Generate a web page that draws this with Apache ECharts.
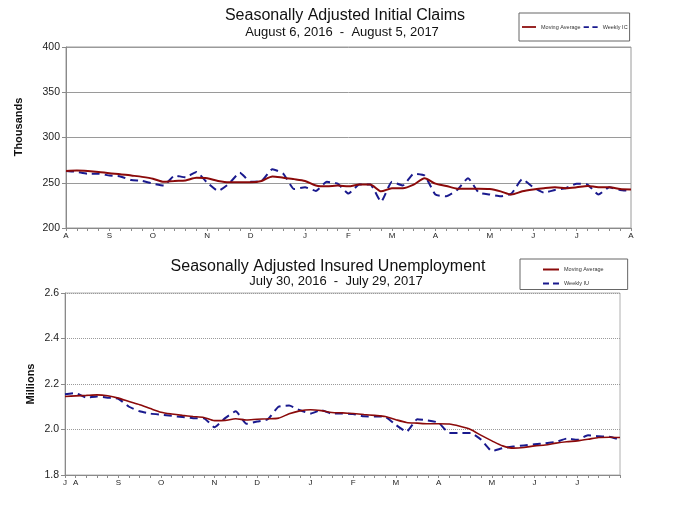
<!DOCTYPE html>
<html>
<head>
<meta charset="utf-8">
<script src="https://cdn.jsdelivr.net/npm/echarts@6/dist/echarts.min.js"></script>
<style>html,body{margin:0;padding:0;background:#fff;}#c{width:676px;height:508px;}</style>
</head>
<body>
<div id="c"></div>
<script>
// ---------- Top chart: Seasonally Adjusted Initial Claims (thousands) ----------
const topDates = ['2016-08-06','2016-08-13','2016-08-20','2016-08-27','2016-09-03','2016-09-10','2016-09-17','2016-09-24',
  '2016-10-01','2016-10-08','2016-10-15','2016-10-22','2016-10-29','2016-11-05','2016-11-12','2016-11-19','2016-11-26',
  '2016-12-03','2016-12-10','2016-12-17','2016-12-24','2016-12-31','2017-01-07','2017-01-14','2017-01-21','2017-01-28',
  '2017-02-04','2017-02-11','2017-02-18','2017-02-25','2017-03-04','2017-03-11','2017-03-18','2017-03-25',
  '2017-04-01','2017-04-08','2017-04-15','2017-04-22','2017-04-29','2017-05-06','2017-05-13','2017-05-20','2017-05-27',
  '2017-06-03','2017-06-10','2017-06-17','2017-06-24','2017-07-01','2017-07-08','2017-07-15','2017-07-22','2017-07-29','2017-08-05'];
const topWeeklyIC = [263,262,260,260,258,257,253,252,249,247,258,256,262,250,241,249,261,251,252,265,260,243,245,241,251,249,
  238,248,248,229,251,247,260,258,237,235,242,255,239,237,235,238,254,245,239,242,244,249,248,237,245,242,241];
const topMovingAvg = [263,263.5,263,262,260.5,259.5,258,256.5,254.5,251,252,252.5,255.5,255,252,250.5,250.5,250.5,252,257,255.5,254,252,247,246,247,
  246,248,248,240.5,244,244,248,255,249,246.5,243.5,243.5,243.5,243,240.5,237,240.5,242.5,244,245,244,245,246.5,245,245,243,242.5];
const topTickIndex = [0,4,8,13,17,22,26,30,34,39,43,47,52];
const topTickText  = ['A','S','O','N','D','J','F','M','A','M','J','J','A'];

// ---------- Bottom chart: Seasonally Adjusted Insured Unemployment (millions) ----------
const bottomDates = ['2016-07-30','2016-08-06','2016-08-13','2016-08-20','2016-08-27','2016-09-03','2016-09-10','2016-09-17','2016-09-24',
  '2016-10-01','2016-10-08','2016-10-15','2016-10-22','2016-10-29','2016-11-05','2016-11-12','2016-11-19','2016-11-26',
  '2016-12-03','2016-12-10','2016-12-17','2016-12-24','2016-12-31','2017-01-07','2017-01-14','2017-01-21','2017-01-28',
  '2017-02-04','2017-02-11','2017-02-18','2017-02-25','2017-03-04','2017-03-11','2017-03-18','2017-03-25',
  '2017-04-01','2017-04-08','2017-04-15','2017-04-22','2017-04-29','2017-05-06','2017-05-13','2017-05-20','2017-05-27',
  '2017-06-03','2017-06-10','2017-06-17','2017-06-24','2017-07-01','2017-07-08','2017-07-15','2017-07-22','2017-07-29'];
const bottomWeeklyIU = [2.155,2.16,2.14,2.145,2.14,2.135,2.10,2.08,2.07,2.065,2.06,2.055,2.05,2.05,2.01,2.05,2.08,2.025,2.035,2.045,
  2.10,2.105,2.085,2.07,2.085,2.07,2.07,2.068,2.058,2.057,2.056,2.02,1.99,2.045,2.04,2.03,1.985,1.985,1.985,1.955,1.905,1.918,
  1.925,1.93,1.935,1.94,1.945,1.96,1.955,1.975,1.97,1.968,1.955];
const bottomMovingAvg = [2.145,2.148,2.15,2.152,2.148,2.138,2.123,2.109,2.092,2.076,2.068,2.062,2.057,2.053,2.039,2.04,2.047,2.042,2.045,2.047,
  2.05,2.069,2.082,2.087,2.083,2.075,2.073,2.07,2.066,2.062,2.057,2.043,2.031,2.028,2.025,2.025,2.024,2.014,2.0,1.974,1.95,1.928,
  1.918,1.921,1.928,1.932,1.94,1.946,1.95,1.957,1.965,1.966,1.965];
const bottomTickIndex = [0,1,5,9,14,18,23,27,31,35,40,44,48];
const bottomTickText  = ['J','A','S','O','N','D','J','F','M','A','M','J','J'];

function labelMap(idx, txt){ const m = {}; idx.forEach((k,i)=>{ m[k]=txt[i]; }); return m; }
const topLabels = labelMap(topTickIndex, topTickText);
const bottomLabels = labelMap(bottomTickIndex, bottomTickText);

const FONT = 'Arial, "Liberation Sans", sans-serif';
const MA_COLOR = '#8b0a0a';
const WK_COLOR = '#1a1a8e';
const AXIS_COLOR = '#8a8a8a';
const SOLID_ICON = 'path://M0,0H16V2H0Z';
const DASH_ICON = 'path://M0,0H6V2H0Z M10,0H16V2H10Z';

function xAx(grid, data, labels){
  return {
    gridIndex: grid, type: 'category', data: data, boundaryGap: false,
    axisLine: {show: true, lineStyle: {color: AXIS_COLOR, width: 1}},
    axisTick: {show: true, interval: 0, length: 3, lineStyle: {color: AXIS_COLOR}},
    axisLabel: {interval: 0, fontSize: 8, color: '#222', margin: 4, fontFamily: FONT,
      formatter: (v, i) => labels[i] || ''},
    splitLine: {show: false}
  };
}
function yAx(grid, min, max, interval, dec, splitType){
  return {
    gridIndex: grid, type: 'value', min: min, max: max, interval: interval,
    axisLine: {show: true, lineStyle: {color: AXIS_COLOR, width: 1}},
    axisTick: {show: true, length: 4, lineStyle: {color: AXIS_COLOR}},
    axisLabel: {fontSize: 10.5, color: '#222', margin: 6, fontFamily: FONT,
      formatter: v => v.toFixed(dec)},
    splitLine: {show: true, lineStyle: {color: '#9a9a9a', width: 1, type: splitType}}
  };
}
function txt(x, y, text, font, rot){
  return {type: 'text', x: x, y: y, rotation: rot || 0, silent: true,
    style: {text: text, font: font, fill: '#111', align: 'center', verticalAlign: 'middle',
            textAlign: 'center', textVerticalAlign: 'middle'}};
}

const chart = echarts.init(document.getElementById('c'), null, {renderer: 'canvas'});
chart.setOption({
  animation: false,
  backgroundColor: '#ffffff',
  textStyle: {fontFamily: FONT},
  grid: [
    {left: 66, top: 47, width: 565, height: 181, show: true, borderColor: '#9a9a9a', borderWidth: 1, backgroundColor: 'transparent'},
    {left: 65, top: 293, width: 555, height: 182, show: true, borderColor: '#b0b0b0', borderWidth: 1, backgroundColor: 'transparent'}
  ],
  xAxis: [xAx(0, topDates, topLabels), xAx(1, bottomDates, bottomLabels)],
  yAxis: [yAx(0, 200, 400, 50, 0, 'solid'), yAx(1, 1.8, 2.6, 0.2, 1, 'dotted')],
  legend: [
    {data: [{name: 'Moving Average', icon: SOLID_ICON}, {name: 'Weekly IC', icon: DASH_ICON}],
     orient: 'horizontal', left: 519, top: 13,
     padding: [11, 2, 11, 3], itemGap: 3, itemWidth: 14, itemHeight: 2,
     borderColor: '#666', borderWidth: 1, selectedMode: false,
     textStyle: {fontSize: 5.5, color: '#333', fontFamily: FONT}},
    {data: [{name: 'Moving Average', icon: SOLID_ICON}, {name: 'Weekly IU', icon: DASH_ICON}],
     orient: 'vertical', left: 520, top: 259,
     padding: [7.5, 24, 3, 23], itemGap: 8, itemWidth: 16, itemHeight: 2, align: 'left',
     borderColor: '#666', borderWidth: 1, selectedMode: false,
     textStyle: {fontSize: 5.5, color: '#333', fontFamily: FONT}}
  ],
  graphic: [
    txt(345, 16, 'Seasonally Adjusted Initial Claims', '16px ' + FONT),
    txt(342, 32, 'August 6, 2016  -  August 5, 2017', '13px ' + FONT),
    txt(328, 267, 'Seasonally Adjusted Insured Unemployment', '16px ' + FONT),
    txt(336, 281, 'July 30, 2016  -  July 29, 2017', '13px ' + FONT),
    txt(19, 127, 'Thousands', 'bold 11px ' + FONT, Math.PI / 2),
    txt(31, 384, 'Millions', 'bold 11px ' + FONT, Math.PI / 2)
  ],
  series: [
    {name: 'Moving Average', type: 'line', xAxisIndex: 0, yAxisIndex: 0, data: topMovingAvg,
     symbol: 'none', smooth: 0.25, z: 3, lineStyle: {color: MA_COLOR, width: 2}, itemStyle: {color: MA_COLOR}},
    {name: 'Weekly IC', type: 'line', xAxisIndex: 0, yAxisIndex: 0, data: topWeeklyIC,
     symbol: 'none', smooth: 0.15, z: 2, lineStyle: {color: WK_COLOR, width: 2, type: [8, 5]}, itemStyle: {color: WK_COLOR}},
    {name: 'Moving Average', type: 'line', xAxisIndex: 1, yAxisIndex: 1, data: bottomMovingAvg,
     symbol: 'none', smooth: 0.25, z: 3, lineStyle: {color: MA_COLOR, width: 1.6}, itemStyle: {color: MA_COLOR}},
    {name: 'Weekly IU', type: 'line', xAxisIndex: 1, yAxisIndex: 1, data: bottomWeeklyIU,
     symbol: 'none', smooth: 0.15, z: 2, lineStyle: {color: WK_COLOR, width: 2, type: [8, 5]}, itemStyle: {color: WK_COLOR}}
  ]
});
</script>
</body>
</html>
